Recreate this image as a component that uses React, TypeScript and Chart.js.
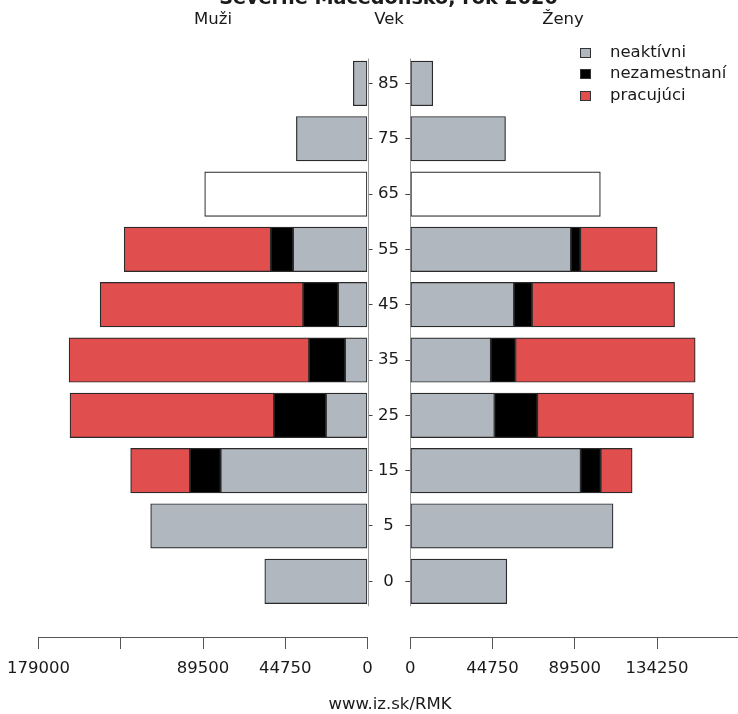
import React, { useEffect, useRef } from "react";
import { Chart, registerables } from "chart.js";

Chart.register(...registerables);

// ---- data ----
const AGE_GROUPS = ["0", "5", "15", "25", "35", "45", "55", "65", "75", "85"];

const MALE_NEAKTIVNI = [55900, 118000, 79900, 22600, 12200, 16000, 40500, null, 38700, 7700];
const MALE_NEZAMESTNANI = [null, null, 16700, 28300, 19600, 19000, 12100, null, null, null];
const MALE_PRACUJUCI = [null, null, 32300, 111000, 130600, 110500, 79800, null, null, null];
const MALE_SPOLU = [null, null, null, null, null, null, null, 88600, null, null];

const FEMALE_NEAKTIVNI = [52500, 110300, 92700, 45800, 43800, 56400, 87400, null, 51800, 12200];
const FEMALE_NEZAMESTNANI = [null, null, 10900, 23300, 13400, 9800, 5100, null, null, null];
const FEMALE_PRACUJUCI = [null, null, 17100, 85000, 97800, 77600, 41800, null, null, null];
const FEMALE_SPOLU = [null, null, null, null, null, null, null, 103400, null, null];

const MALE_X_TICKS = [0, 44750, 89500, 134250, 179000];
const MALE_X_TICK_LABELS = ["0", "44750", "89500", "", "179000"];
const FEMALE_X_TICKS = [0, 44750, 89500, 134250];
const FEMALE_X_TICK_LABELS = ["0", "44750", "89500", "134250"];

const SERIES_NAMES = ["neaktívni", "nezamestnaní", "pracujúci"];
const SERIES_COLORS = ["#b1b7bf", "#000000", "#e04e4e"];
const TOTAL_COLOR = "#ffffff";

const TITLE = "Severné Macedónsko, rok 2020";
const FONT = "'DejaVu Sans', sans-serif";
const FS = 16.5;

const zeroLine = {
  id: "zeroLine",
  beforeDatasetsDraw(chart: any) {
    const { ctx, scales } = chart;
    const x = scales.x;
    const y = scales.y;
    const px = Math.round(x.getPixelForValue(0)) + 0.5;
    ctx.save();
    ctx.strokeStyle = "#9a9a9a";
    ctx.lineWidth = 1;
    ctx.beginPath();
    ctx.moveTo(px, y.getPixelForValue(9.45));
    ctx.lineTo(px, y.getPixelForValue(-0.45));
    ctx.stroke();
    ctx.restore();
  },
};

function toPoints(arr: (number | null)[]) {
  return AGE_GROUPS.map((_, i) => ({ x: arr[i], y: i })).filter((p) => p.x != null);
}

function makeDatasets(series: (number | null)[][], total: (number | null)[]) {
  const ds: any[] = series.map((arr, k) => ({
    label: SERIES_NAMES[k],
    data: toPoints(arr),
    backgroundColor: SERIES_COLORS[k],
    borderColor: "#2a2a2a",
    borderWidth: 1.2,
    borderSkipped: false,
    barThickness: 44.5,
  }));
  ds.push({
    label: "spolu",
    data: toPoints(total),
    backgroundColor: TOTAL_COLOR,
    borderColor: "#2a2a2a",
    borderWidth: 1.2,
    borderSkipped: false,
    barThickness: 44.5,
  });
  return ds;
}

const Y_MIN = -1.0069;
const Y_MAX = 9.604;

function makeConfig(side: "male" | "female"): any {
  const male = side === "male";
  const ticksArr = male ? MALE_X_TICKS : FEMALE_X_TICKS;
  const tickLabels = male ? MALE_X_TICK_LABELS : FEMALE_X_TICK_LABELS;
  const datasets = male
    ? makeDatasets([MALE_NEAKTIVNI, MALE_NEZAMESTNANI, MALE_PRACUJUCI], MALE_SPOLU)
    : makeDatasets([FEMALE_NEAKTIVNI, FEMALE_NEZAMESTNANI, FEMALE_PRACUJUCI], FEMALE_SPOLU);
  return {
    type: "bar",
    data: { datasets },
    plugins: [zeroLine],
    options: {
      indexAxis: "y",
      responsive: false,
      animation: false,
      events: [],
      layout: {
        padding: male
          ? { left: 38.6, top: 50, right: 0, bottom: 0 }
          : { left: 0, top: 50, right: 0, bottom: 0 },
      },
      plugins: {
        legend: { display: false },
        tooltip: { enabled: false },
        title: { display: false },
      },
      scales: {
        x: {
          type: "linear",
          position: "bottom",
          stacked: true,
          reverse: male,
          min: 0,
          max: male ? 179000 : 178300,
          afterBuildTicks: (s: any) => {
            s.ticks = ticksArr.map((v) => ({ value: v }));
          },
          afterFit: (s: any) => {
            s.height = 77;
          },
          ticks: {
            autoSkip: false,
            maxRotation: 0,
            padding: 10,
            color: "#1a1a1a",
            font: { family: FONT, size: FS },
            callback: (v: any) => {
              const i = ticksArr.indexOf(v);
              return i >= 0 ? tickLabels[i] : "";
            },
          },
          grid: {
            display: true,
            drawOnChartArea: false,
            drawTicks: true,
            tickLength: 12,
            color: "#555555",
          },
          border: { display: true, color: "#555555", width: 1 },
        },
        y: {
          type: "linear",
          position: male ? "right" : "left",
          stacked: true,
          offset: false,
          min: Y_MIN,
          max: Y_MAX,
          afterBuildTicks: (s: any) => {
            s.ticks = AGE_GROUPS.map((_, i) => ({ value: i }));
          },
          afterFit: (s: any) => {
            s.width = male ? 32.5 : 15.3;
          },
          ticks: {
            display: male,
            autoSkip: false,
            crossAlign: "center",
            padding: 5.5,
            color: "#1a1a1a",
            font: { family: FONT, size: FS },
            callback: (v: any) => AGE_GROUPS[v] ?? "",
          },
          grid: {
            display: true,
            offset: false,
            drawOnChartArea: false,
            drawTicks: true,
            tickLength: 5,
            color: "#444444",
          },
          border: { display: false },
        },
      },
    },
  };
}

const textBase: React.CSSProperties = {
  position: "absolute",
  fontFamily: FONT,
  fontSize: FS,
  lineHeight: `${FS}px`,
  color: "#1a1a1a",
  whiteSpace: "nowrap",
};

export default function App() {
  const leftRef = useRef<HTMLCanvasElement | null>(null);
  const rightRef = useRef<HTMLCanvasElement | null>(null);

  useEffect(() => {
    const c1 = new Chart(leftRef.current as HTMLCanvasElement, makeConfig("male"));
    const c2 = new Chart(rightRef.current as HTMLCanvasElement, makeConfig("female"));
    return () => {
      c1.destroy();
      c2.destroy();
    };
  }, []);

  const legendRows = SERIES_NAMES.map((name, k) => (
    <React.Fragment key={name}>
      <div
        style={{
          position: "absolute",
          left: 580,
          top: 47.5 + k * 21.7,
          width: 11,
          height: 10,
          boxSizing: "border-box",
          background: SERIES_COLORS[k],
          border: "1px solid #333",
        }}
      />
      <div style={{ ...textBase, left: 610, top: 43.5 + k * 21.7 }}>{name}</div>
    </React.Fragment>
  ));

  return (
    <div
      style={{
        position: "absolute",
        left: 0,
        top: 0,
        width: 738,
        height: 714,
        overflow: "hidden",
        background: "#ffffff",
      }}
    >
      <canvas
        ref={leftRef}
        width={400}
        height={714}
        style={{ position: "absolute", left: 0, top: 0, width: 400, height: 714 }}
      />
      <canvas
        ref={rightRef}
        width={343}
        height={714}
        style={{ position: "absolute", left: 395, top: 0, width: 343, height: 714 }}
      />
      <div
        style={{
          ...textBase,
          fontWeight: "bold",
          fontSize: 19.2,
          lineHeight: "19.2px",
          left: 388.5,
          top: -11.7,
          transform: "translateX(-50%)",
        }}
      >
        {TITLE}
      </div>
      <div style={{ ...textBase, left: 213, top: 11, transform: "translateX(-50%)" }}>Muži</div>
      <div style={{ ...textBase, left: 389, top: 11, transform: "translateX(-50%)" }}>Vek</div>
      <div style={{ ...textBase, left: 563, top: 11, transform: "translateX(-50%)" }}>Ženy</div>
      {legendRows}
      <div style={{ ...textBase, left: 390, top: 696, transform: "translateX(-50%)" }}>
        www.iz.sk/RMK
      </div>
    </div>
  );
}
